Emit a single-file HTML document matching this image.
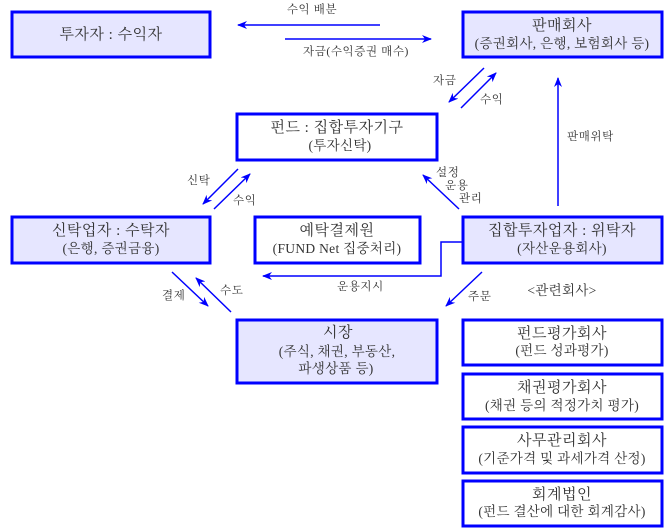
<!DOCTYPE html>
<html><head><meta charset="utf-8"><style>
html,body{margin:0;padding:0;background:#fff;}
svg{display:block;}
text{font-family:"Liberation Serif","Noto Serif CJK SC","Noto Sans CJK KR",serif;fill:#333;}
.b{font-size:15px;letter-spacing:0.5px;}
.s{font-size:13.5px;letter-spacing:0.3px;}
.l{font-size:11.5px;letter-spacing:0.6px;}
</style></head><body>
<svg width="670" height="529" viewBox="0 0 670 529" xmlns="http://www.w3.org/2000/svg">
<defs>
<marker id="a" markerWidth="10" markerHeight="8" refX="9" refY="4" orient="auto" markerUnits="userSpaceOnUse">
<path d="M0,0 L10,4 L0,8 L3,4 z" fill="#0000ff"/></marker>
</defs>
<g stroke="#0000ff" stroke-width="3">
<rect x="12" y="12" width="198" height="45" fill="#e6e6ff"/>
<rect x="463" y="12" width="199" height="45" fill="#e6e6ff"/>
<rect x="237" y="114" width="200" height="46" fill="#fff"/>
<rect x="12" y="217" width="198" height="46" fill="#e6e6ff"/>
<rect x="255" y="217" width="165" height="46" fill="#fff"/>
<rect x="463" y="217" width="199" height="46" fill="#e6e6ff"/>
<rect x="237" y="320" width="200" height="63" fill="#e6e6ff"/>
<rect x="463" y="320" width="199" height="45" fill="#fff"/>
<rect x="463" y="374" width="199" height="45" fill="#fff"/>
<rect x="463" y="427" width="199" height="46" fill="#fff"/>
<rect x="463" y="481" width="199" height="45" fill="#fff"/>
</g>
<g stroke="#0000ff" stroke-width="1.5" fill="none" marker-end="url(#a)">
<line x1="380" y1="25" x2="238" y2="25"/>
<line x1="285" y1="39" x2="431" y2="39"/>
<line x1="484" y1="68" x2="449" y2="102"/>
<line x1="461" y1="108" x2="496" y2="73"/>
<line x1="558" y1="206" x2="558" y2="78"/>
<line x1="238" y1="169" x2="203" y2="204"/>
<line x1="214" y1="209" x2="250" y2="174"/>
<line x1="459" y1="209" x2="423" y2="175"/>
<polyline points="462,242 441,242 441,276 263,276"/>
<line x1="482" y1="272" x2="446" y2="306"/>
<line x1="172" y1="272" x2="208" y2="306"/>
<line x1="231" y1="312" x2="196" y2="278"/>
</g>
<text class="b" x="111" y="39" text-anchor="middle">투자자 :  수익자</text>
<text class="b" x="562" y="30" text-anchor="middle">판매회사</text>
<text class="s" x="562" y="48" text-anchor="middle">(증권회사, 은행, 보험회사 등)</text>
<text class="b" x="337" y="132" text-anchor="middle">펀드 :  집합투자기구</text>
<text class="s" x="340" y="150" text-anchor="middle">(투자신탁)</text>
<text class="b" x="111" y="235" text-anchor="middle">신탁업자 :  수탁자</text>
<text class="s" x="111" y="253" text-anchor="middle">(은행, 증권금융)</text>
<text class="b" x="337" y="235" text-anchor="middle">예탁결제원</text>
<text class="s" x="337" y="253" text-anchor="middle">(FUND Net 집중처리)</text>
<text class="b" x="562" y="235" text-anchor="middle">집합투자업자 :  위탁자</text>
<text class="s" x="562" y="253" text-anchor="middle">(자산운용회사)</text>
<text class="b" x="338" y="337" text-anchor="middle">시장</text>
<text class="s" x="337" y="356" text-anchor="middle">(주식, 채권, 부동산,</text>
<text class="s" x="336" y="373" text-anchor="middle">파생상품 등)</text>
<text class="s" x="562" y="295" text-anchor="middle">&lt;관련회사&gt;</text>
<text class="b" x="562" y="338" text-anchor="middle">펀드평가회사</text>
<text class="s" x="562" y="355" text-anchor="middle">(펀드 성과평가)</text>
<text class="b" x="562" y="392" text-anchor="middle">채권평가회사</text>
<text class="s" x="562" y="410" text-anchor="middle">(채권 등의 적정가치 평가)</text>
<text class="b" x="562" y="445" text-anchor="middle">사무관리회사</text>
<text class="s" x="562" y="463" text-anchor="middle">(기준가격 및 과세가격 산정)</text>
<text class="b" x="562" y="499" text-anchor="middle">회계법인</text>
<text class="s" x="562" y="516" text-anchor="middle">(펀드 결산에 대한 회계감사)</text>
<text class="l" x="312" y="13" text-anchor="middle">수익 배분</text>
<text class="l" x="356" y="55" text-anchor="middle">자금(수익증권 매수)</text>
<text class="l" x="433" y="84">자금</text>
<text class="l" x="480" y="103">수익</text>
<text class="l" x="567" y="140">판매위탁</text>
<text class="l" x="187" y="184">신탁</text>
<text class="l" x="233" y="204">수익</text>
<text class="l" x="436" y="176">설정</text>
<text class="l" x="445" y="189">운용</text>
<text class="l" x="459" y="202">관리</text>
<text class="l" x="337" y="290">운용지시</text>
<text class="l" x="468" y="300">주문</text>
<text class="l" x="162" y="299">결제</text>
<text class="l" x="220" y="294">수도</text>
</svg>
</body></html>
